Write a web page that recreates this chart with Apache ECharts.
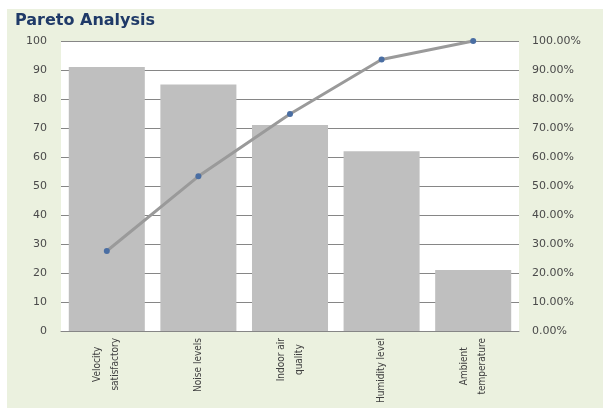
<!DOCTYPE html>
<html>
<head>
<meta charset="utf-8">
<script src="https://cdn.jsdelivr.net/npm/echarts@6/dist/echarts.min.js"></script>
<style>
  html, body { margin: 0; padding: 0; background: #ffffff; }
  #chart { width: 603px; height: 408px; }
</style>
</head>
<body>
<div id="chart"></div>
<script>
// Categories and measured scores
const categories = [
  'Velocity\nsatisfactory',
  'Noise levels',
  'Indoor air\nquality',
  'Humidity level',
  'Ambient\ntemperature'
];
const scores = [91, 85, 71, 62, 21];
// Cumulative share of the total, in percent
const cumulativePct = [27.58, 53.33, 74.85, 93.64, 100];
const leftTicks = [0, 100, 10];   // min, max, step
const rightTicks = [0, 100, 10];

const chart = echarts.init(document.getElementById('chart'), null, { renderer: 'canvas' });

const labelFont = 'DejaVu Sans';
const catFont = "'DejaVu Sans Condensed', 'DejaVu Sans'";

chart.setOption({
  animation: false,
  backgroundColor: '#ffffff',
  graphic: [
    {
      type: 'rect',
      z: -10,
      shape: { x: 7, y: 9, width: 603, height: 408 },
      style: { fill: '#ebf1df' }
    },
    {
      type: 'rect',
      z: -9,
      shape: { x: 61, y: 41, width: 458, height: 290 },
      style: { fill: '#ffffff' }
    }
  ],
  title: {
    text: 'Pareto Analysis',
    left: 10,
    top: 8,
    textStyle: {
      fontFamily: labelFont,
      fontWeight: 'bold',
      fontSize: 16,
      color: '#1f3a68'
    }
  },
  grid: { left: 61, right: 84, top: 41, bottom: 77, containLabel: false, outerBoundsMode: 'none' },
  xAxis: {
    type: 'category',
    data: categories,
    axisLine: { show: true, lineStyle: { color: '#868686', width: 1 } },
    axisTick: { show: false },
    axisLabel: {
      rotate: 90,
      margin: 7,
      interval: 0,
      color: '#404040',
      fontFamily: catFont,
      fontSize: 10,
      lineHeight: 18,
      formatter: v => v.split('\n').map(s => '{c|' + s + '}').join('\n'),
      rich: {
        c: { align: 'center', fontFamily: catFont, fontSize: 10, lineHeight: 18, color: '#404040' }
      }
    }
  },
  yAxis: [
    {
      type: 'value',
      min: leftTicks[0],
      max: leftTicks[1],
      interval: leftTicks[2],
      axisLine: { show: false },
      axisTick: { show: false },
      splitLine: { show: true, lineStyle: { color: '#868686', width: 1 } },
      axisLabel: {
        margin: 14,
        color: '#4a4a4a',
        fontFamily: labelFont,
        fontSize: 11
      }
    },
    {
      type: 'value',
      min: rightTicks[0],
      max: rightTicks[1],
      interval: rightTicks[2],
      axisLine: { show: false },
      axisTick: { show: false },
      splitLine: { show: false },
      axisLabel: {
        margin: 13,
        color: '#4a4a4a',
        fontFamily: labelFont,
        fontSize: 11,
        formatter: v => v.toFixed(2) + '%'
      }
    }
  ],
  series: [
    {
      type: 'bar',
      data: scores,
      yAxisIndex: 0,
      barCategoryGap: '17%',
      itemStyle: { color: '#bfbfbf' }
    },
    {
      type: 'line',
      data: cumulativePct,
      yAxisIndex: 1,
      symbol: 'circle',
      symbolSize: 6,
      lineStyle: { color: '#9a9a9a', width: 3 },
      itemStyle: { color: '#4a6ea3' },
      z: 5
    }
  ]
});
</script>
</body>
</html>
